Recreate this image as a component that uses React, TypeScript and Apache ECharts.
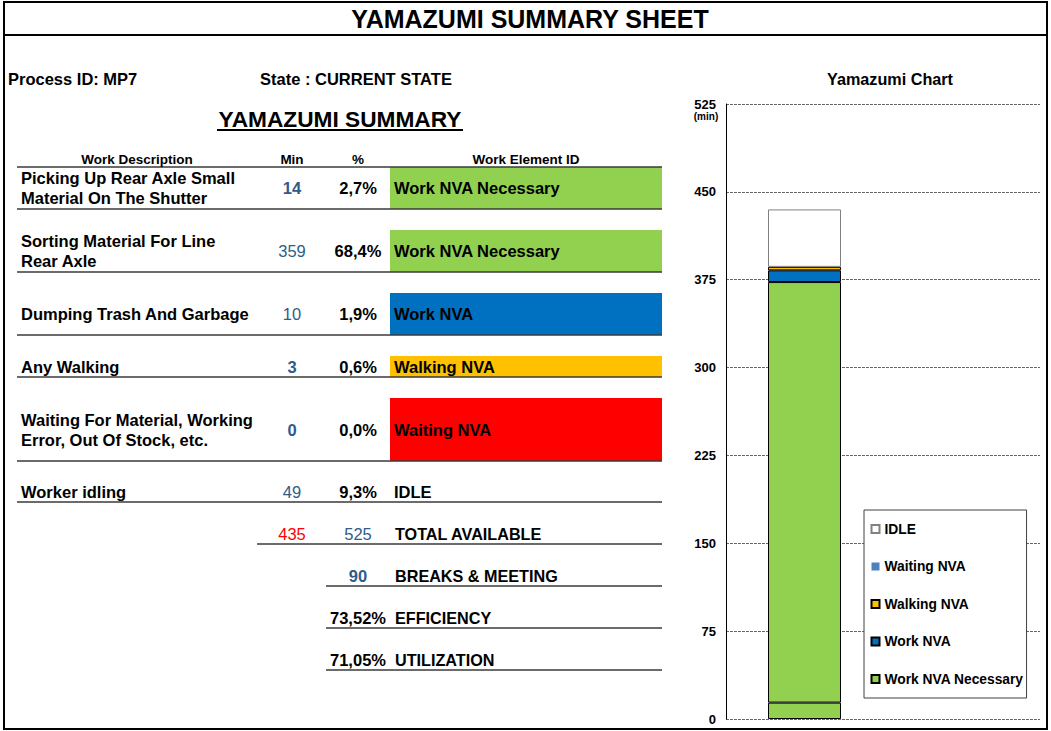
import React, { useEffect, useRef } from "react";
import * as echarts from "echarts";

// ---------- DATA ----------
const descriptions = [
  "Picking Up Rear Axle Small\nMaterial On The Shutter",
  "Sorting Material For Line\nRear Axle",
  "Dumping Trash And Garbage",
  "Any Walking",
  "Waiting For Material, Working\nError, Out Of Stock, etc.",
  "Worker idling",
];
const minutes = [14, 359, 10, 3, 0, 49];
const percentLabels = ["2,7%", "68,4%", "1,9%", "0,6%", "0,0%", "9,3%"];
const elementIds = [
  "Work NVA Necessary",
  "Work NVA Necessary",
  "Work NVA",
  "Walking NVA",
  "Waiting NVA",
  "IDLE",
];
const totalUsed = 435;
const totalAvailable = 525;
const breaksMeeting = 90;
const efficiencyLabel = "73,52%";
const utilizationLabel = "71,05%";
const categories = ["MP7", ""];
const legendOrder = ["IDLE", "Waiting NVA", "Walking NVA", "Work NVA", "Work NVA Necessary"];
const yMin = 0;
const yMax = 525;
const yInterval = 75;

// ---------- STYLE / LAYOUT ----------
const FONT = '"Liberation Sans", Arial, Helvetica, sans-serif';
const cellColors: Record<string, string | null> = {
  "Work NVA Necessary": "#92D050",
  "Work NVA": "#0070C0",
  "Walking NVA": "#FFC000",
  "Waiting NVA": "#FF0000",
  IDLE: null,
};
const barColors: Record<string, string> = {
  "Work NVA Necessary": "#92D050",
  "Work NVA": "#0070C0",
  "Walking NVA": "#FFC000",
  "Waiting NVA": "#4F81BD",
  IDLE: "#FFFFFF",
};
const barBorders: Record<string, [string, number]> = {
  "Work NVA Necessary": ["#000000", 1],
  "Work NVA": ["#000000", 1],
  "Walking NVA": ["#000000", 1],
  "Waiting NVA": ["#4F81BD", 0],
  IDLE: ["#808080", 1],
};
const rowTops = [167, 230, 293, 356, 398, 481];
const rowBottoms = [209, 272, 335, 377, 461, 502];
const minBold = [true, false, false, true, true, false];
const MIN_COLOR = "#2F5C8A";
const LINE_COLOR = "#3a3a3a";

function txt(
  text: string,
  x: number,
  y: number,
  size: number,
  opts: { align?: string; bold?: boolean; color?: string; lineHeight?: number } = {}
) {
  return {
    type: "text",
    x,
    y,
    silent: true,
    z: 10,
    style: {
      text,
      fill: opts.color || "#000",
      fontSize: size,
      fontWeight: opts.bold === false ? "normal" : "bold",
      fontFamily: FONT,
      align: opts.align || "left",
      verticalAlign: "middle",
      lineHeight: opts.lineHeight || Math.round(size * 1.2),
    },
  };
}

function hline(x1: number, x2: number, y: number, w = 1.6, color = LINE_COLOR) {
  return {
    type: "line",
    silent: true,
    z: 5,
    shape: { x1, y1: y, x2, y2: y },
    style: { stroke: color, lineWidth: w },
  };
}

function buildGraphics() {
  const g: any[] = [];
  // page frame
  g.push({
    type: "rect",
    silent: true,
    z: 20,
    shape: { x: 4, y: 2, width: 1043, height: 727 },
    style: { fill: "none", stroke: "#000", lineWidth: 2 },
  });
  g.push(hline(4, 1047, 35, 2, "#000"));
  g.push(txt("YAMAZUMI SUMMARY SHEET", 530, 19, 25, { align: "center" }));

  g.push(txt("Process ID: MP7", 8, 79, 16.5));
  g.push(txt("State : CURRENT STATE", 260, 79, 16.5));
  g.push(txt("YAMAZUMI SUMMARY", 340, 119, 22.7, { align: "center" }));
  g.push(hline(217, 463, 130, 2, "#000"));

  // headers
  g.push(txt("Work Description", 137, 159, 13.5, { align: "center" }));
  g.push(txt("Min", 292, 159, 13.5, { align: "center" }));
  g.push(txt("%", 358, 159, 13.5, { align: "center" }));
  g.push(txt("Work Element ID", 526, 159, 13.5, { align: "center" }));
  g.push(hline(17, 662, 167));

  for (let i = 0; i < descriptions.length; i++) {
    const top = rowTops[i];
    const bottom = rowBottoms[i];
    const cy = (top + bottom) / 2;
    const fill = cellColors[elementIds[i]];
    if (fill) {
      g.push({
        type: "rect",
        silent: true,
        z: 2,
        shape: { x: 390, y: top, width: 272, height: bottom - top },
        style: { fill },
      });
    }
    g.push(txt(descriptions[i], 21, cy, 16.5, { lineHeight: 20 }));
    g.push(txt(String(minutes[i]), 292, cy, 16.5, { align: "center", color: MIN_COLOR, bold: minBold[i] }));
    g.push(txt(percentLabels[i], 358, cy, 16.5, { align: "center" }));
    g.push(txt(elementIds[i], 394, cy, 16.5));
    g.push(hline(17, 662, bottom));
  }

  // summary block
  g.push(txt(String(totalUsed), 292, 534, 16.5, { align: "center", color: "#FF0000", bold: false }));
  g.push(txt(String(totalAvailable), 358, 534, 16.5, { align: "center", color: MIN_COLOR, bold: false }));
  g.push(txt("TOTAL AVAILABLE", 395, 534, 16.2));
  g.push(hline(257, 662, 544));

  g.push(txt(String(breaksMeeting), 358, 576, 16.5, { align: "center", color: MIN_COLOR }));
  g.push(txt("BREAKS & MEETING", 395, 576, 16.2));
  g.push(hline(326, 662, 586));

  g.push(txt(efficiencyLabel, 358, 618, 16.5, { align: "center" }));
  g.push(txt("EFFICIENCY", 395, 618, 16.2));
  g.push(hline(326, 662, 628));

  g.push(txt(utilizationLabel, 358, 660, 16.5, { align: "center" }));
  g.push(txt("UTILIZATION", 395, 660, 16.2));
  g.push(hline(326, 662, 670));

  // chart title and unit
  g.push(txt("Yamazumi Chart", 890, 79, 16.2, { align: "center" }));
  g.push(txt("(min)", 706, 116, 10, { align: "center" }));
  return g;
}

export default function App() {
  const ref = useRef<HTMLDivElement>(null);
  useEffect(() => {
    if (!ref.current) return;
    const chart = echarts.init(ref.current, null, { renderer: "svg" });
    const series = minutes.map((v, i) => {
      const name = elementIds[i];
      const [bc, bw] = barBorders[name];
      return {
        name,
        type: "bar",
        stack: "total",
        barWidth: 73,
        data: [v, "-"],
        itemStyle: { color: barColors[name], borderColor: bc, borderWidth: bw },
        emphasis: { disabled: true },
      };
    });
    chart.setOption({
      animation: false,
      backgroundColor: "#fff",
      grid: { left: 726, right: 11, top: 104, bottom: 12, containLabel: false },
      xAxis: {
        type: "category",
        data: categories,
        axisLine: { show: false },
        axisTick: { show: false },
        axisLabel: { show: false },
        splitLine: { show: false },
      },
      yAxis: {
        type: "value",
        min: yMin,
        max: yMax,
        interval: yInterval,
        axisLine: { show: true, lineStyle: { color: "#000", width: 1 } },
        axisTick: { show: false },
        axisLabel: {
          color: "#000",
          fontSize: 13,
          fontWeight: "bold",
          fontFamily: FONT,
          margin: 10,
        },
        splitLine: { show: true, lineStyle: { color: "#666", width: 1, type: [3, 1] } },
      },
      legend: {
        data: legendOrder,
        orient: "vertical",
        left: 864,
        top: 510,
        padding: [12, 3, 12, 6.5],
        itemGap: 23.5,
        itemWidth: 8,
        itemHeight: 8,
        icon: "rect",
        selectedMode: false,
        backgroundColor: "#fff",
        borderColor: "#404040",
        borderWidth: 1,
        textStyle: { color: "#000", fontSize: 13.8, fontWeight: "bold", fontFamily: FONT, lineHeight: 14 },
      },
      tooltip: { show: false },
      series,
      graphic: { elements: buildGraphics() },
    });
    return () => chart.dispose();
  }, []);
  return (
    <div
      ref={ref}
      style={{ position: "absolute", left: 0, top: 0, width: 1051, height: 731, background: "#fff" }}
    />
  );
}
